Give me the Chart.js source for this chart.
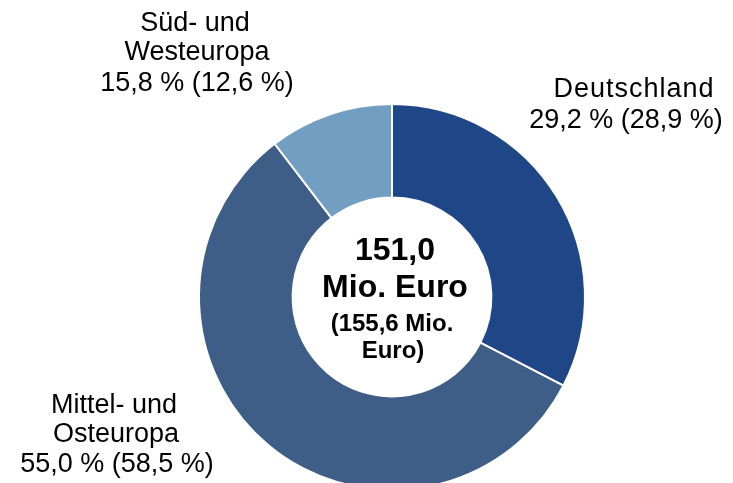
<!DOCTYPE html>
<html>
<head>
<meta charset="utf-8">
<script src="https://cdn.jsdelivr.net/npm/chart.js@4/dist/chart.umd.min.js"></script>
<style>
  html, body { margin: 0; padding: 0; background: #ffffff; overflow: hidden; }
  #wrap { position: relative; width: 733px; height: 500px; }
</style>
</head>
<body>
<div id="wrap"><canvas id="c"></canvas></div>
<script>
// ---- data ----
const categories = ["Deutschland", "Mittel- und Osteuropa", "Süd- und Westeuropa"];
const categoryLines = [["Deutschland"], ["Mittel- und", "Osteuropa"], ["Süd- und", "Westeuropa"]];
// slice sizes as drawn in the picture (share of the full circle, %)
const sliceValues = [32.6, 57.0, 10.4];
// shares printed in the labels (current year, previous year in brackets)
const shareCurrent = [29.2, 55.0, 15.8];
const sharePrevious = [28.9, 58.5, 12.6];
const totalCurrent = 151.0;
const totalPrevious = 155.6;
const unit = "Mio. Euro";

// ---- styles ----
const sliceColors = ["#1f4788", "#3e5e87", "#719ec1"];
const FONT = '"Liberation Sans", Arial, sans-serif';
const fmt = v => v.toFixed(1).replace(".", ",");

// label layout (text anchors relative to chart centre)
const labelLayout = [
  { lines: [{ dx: 242, dy: -200, ls: 1 }, { dx: 234, dy: -169, ls: 0 }] },
  { lines: [{ dx: -278, dy: 116, ls: 0 }, { dx: -276, dy: 145, ls: 0 }, { dx: -275, dy: 175, ls: 0 }] },
  { lines: [{ dx: -197, dy: -266, ls: 0 }, { dx: -195, dy: -237, ls: 0 }, { dx: -195, dy: -206, ls: 0 }] }
];

const textPlugin = {
  id: 'texts',
  afterDraw(chart) {
    const ctx = chart.ctx;
    const arc = chart.getDatasetMeta(0).data[0];
    const cx = arc.x, cy = arc.y;
    ctx.save();
    ctx.fillStyle = '#000000';
    ctx.textAlign = 'center';
    ctx.textBaseline = 'alphabetic';
    // outer labels
    ctx.font = '27px ' + FONT;
    categoryLines.forEach((lines, i) => {
      const all = lines.concat([fmt(shareCurrent[i]) + ' % (' + fmt(sharePrevious[i]) + ' %)']);
      const L = labelLayout[i];
      all.forEach((t, j) => {
        const p = L.lines[j];
        if ('letterSpacing' in ctx) ctx.letterSpacing = p.ls + 'px';
        ctx.fillText(t, cx + p.dx, cy + p.dy);
      });
    });
    if ('letterSpacing' in ctx) ctx.letterSpacing = '0px';
    // centre text
    ctx.font = 'bold 32px ' + FONT;
    ctx.fillText(fmt(totalCurrent), cx + 3, cy - 37);
    ctx.fillText(unit, cx + 3, cy);
    ctx.font = 'bold 24px ' + FONT;
    ctx.fillText('(' + fmt(totalPrevious) + ' Mio.', cx, cy + 34);
    ctx.fillText('Euro)', cx + 1, cy + 61);
    ctx.restore();
  }
};

new Chart(document.getElementById('c'), {
  type: 'doughnut',
  data: {
    labels: categories,
    datasets: [{
      data: sliceValues,
      backgroundColor: sliceColors,
      borderColor: '#ffffff',
      borderWidth: 2,
      hoverOffset: 0
    }]
  },
  options: {
    responsive: true,
    maintainAspectRatio: false,
    animation: false,
    cutout: '51.5%',
    rotation: 0,
    layout: { padding: { top: 103, left: 198, right: 147, bottom: 9 } },
    plugins: { legend: { display: false }, tooltip: { enabled: false } },
    events: []
  },
  plugins: [textPlugin]
});
</script>
</body>
</html>
